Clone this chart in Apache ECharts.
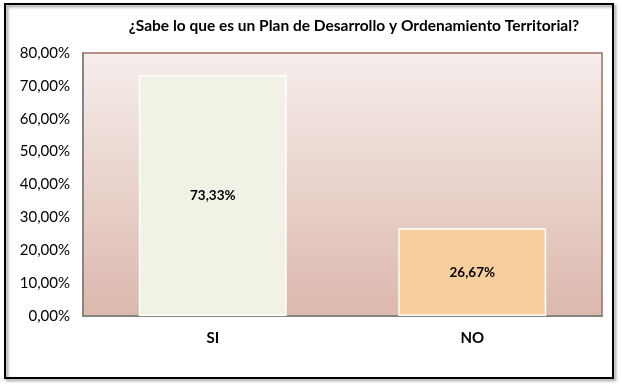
<!DOCTYPE html>
<html>
	<head>
		<meta charset="utf-8">
		<title>Plan de Desarrollo</title>
		<script src="https://cdn.jsdelivr.net/npm/echarts@6/dist/echarts.min.js"></script>
		<style>
			html, body { margin: 0; padding: 0; background: #fff; }
		</style>
	</head>
	<body>
		<div id="box" style="width: 621px;height: 386px;"></div>
		<script>
			// datos del gráfico
			var categorias = ['SI', 'NO']
			var porcentajes = [73.33, 26.67]
			var coloresBarra = ['#f2f1e5', '#f7cf9d']
			var titulo = '¿Sabe lo que es un Plan de Desarrollo y Ordenamiento Territorial?'

			var fuente = 'Lato, "Open Sans", sans-serif'

			function formato(v) {
				return v.toFixed(2).replace('.', ',') + '%'
			}

			var mCharts = echarts.init(document.querySelector('#box'))

			var option = {
				animation: false,
				backgroundColor: '#fff',
				title: {
					text: titulo,
					left: 349,
					top: 13,
					textAlign: 'center',
					textStyle: { fontFamily: fuente, fontSize: 15.5, fontWeight: 'bold', color: '#000' }
				},
				// marco exterior con sombra
				graphic: [{
					type: 'rect',
					shape: { x: 5, y: 4, width: 608, height: 374 },
					style: {
						fill: 'transparent',
						stroke: '#000',
						lineWidth: 2,
						shadowColor: 'rgba(0,0,0,0.45)',
						shadowBlur: 3,
						shadowOffsetX: 2,
						shadowOffsetY: 2
					},
					z: -1
				}],
				grid: {
					left: 83,
					right: 19,
					top: 53,
					bottom: 70,
					show: true,
					borderColor: '#a06e5e',
					borderWidth: 1.5,
					backgroundColor: new echarts.graphic.LinearGradient(0, 0, 0, 1, [
						{ offset: 0, color: '#f6eeeb' },
						{ offset: 1, color: '#dcb8ad' }
					])
				},
				xAxis: {
					type: 'category',
					data: categorias,
					axisLine: { show: true, lineStyle: { color: '#858585', width: 2 } },
					axisTick: { show: false },
					axisLabel: { fontFamily: fuente, fontSize: 15, fontWeight: 'bold', color: '#000', margin: 15 }
				},
				yAxis: {
					type: 'value',
					min: 0,
					max: 80,
					interval: 10,
					splitLine: { show: false },
					axisLine: { show: true, lineStyle: { color: '#858585', width: 2 } },
					axisTick: { show: false },
					axisLabel: {
						fontFamily: fuente, fontSize: 15, color: '#000', margin: 13,
						formatter: function(v) { return formato(v) }
					}
				},
				series: {
					type: 'bar',
					barWidth: '57%',
					data: porcentajes.map(function(v, i) {
						return { value: v, itemStyle: { color: coloresBarra[i] } }
					}),
					itemStyle: { borderColor: '#ffffff', borderWidth: 1.5 },
					label: {
						show: true,
						position: 'inside',
						fontFamily: fuente,
						fontSize: 13.5,
						fontWeight: 'bold',
						color: '#000',
						formatter: function(p) { return formato(p.value) }
					}
				}
			}
			mCharts.setOption(option)
		</script>
	</body>
</html>
